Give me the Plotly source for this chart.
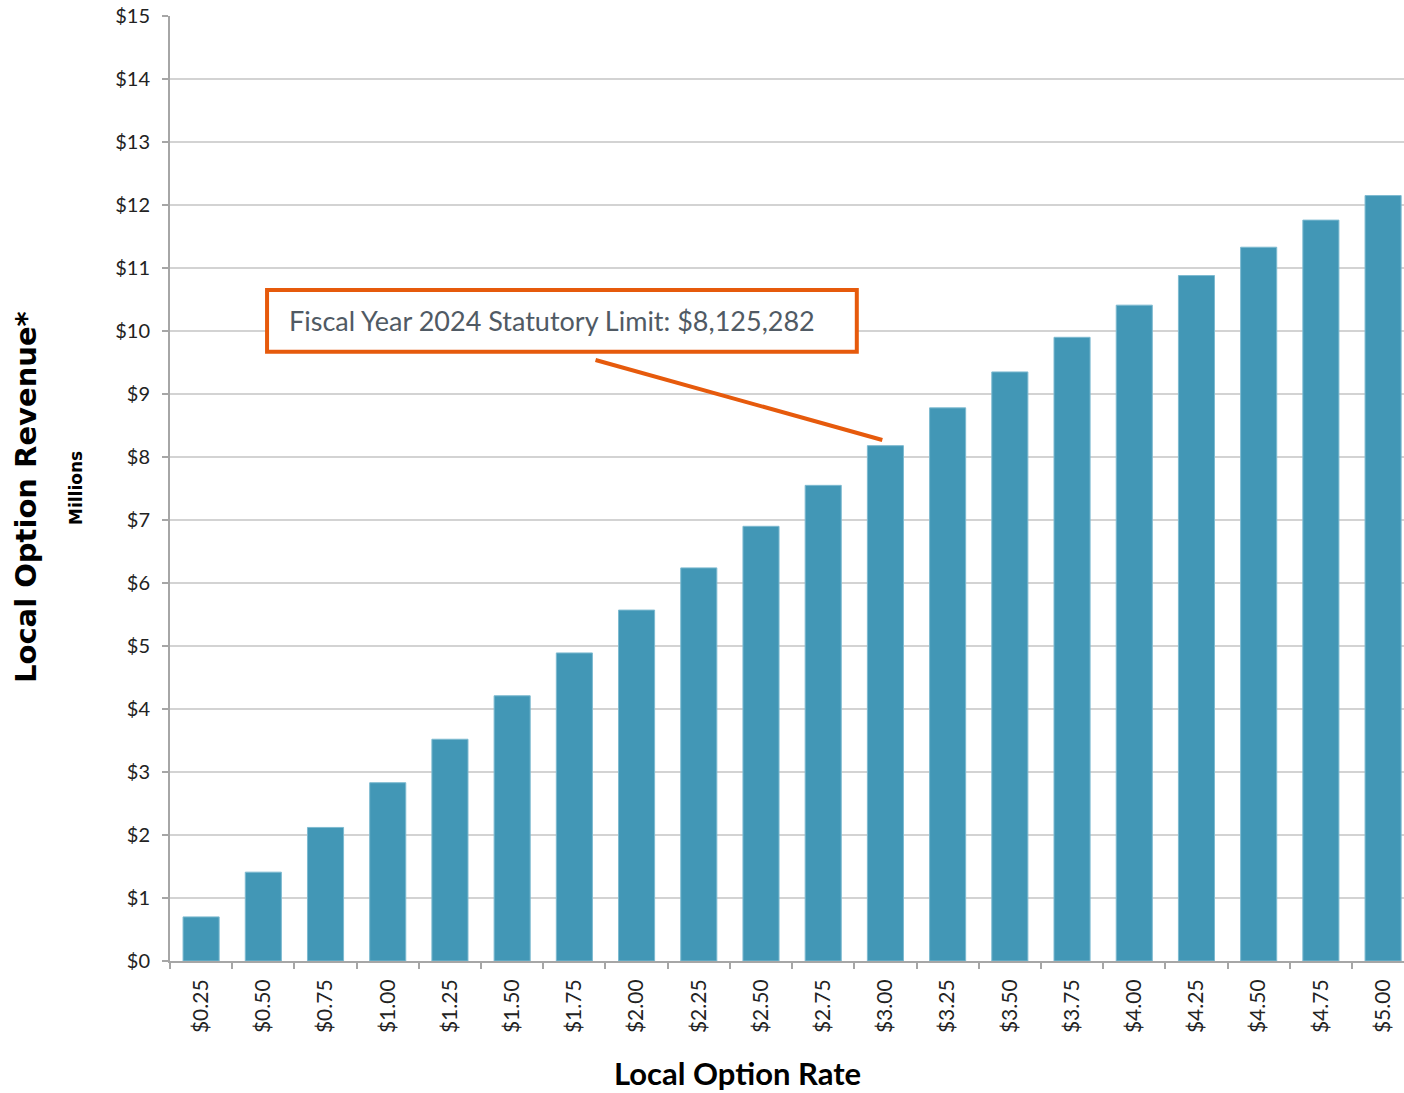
import plotly.graph_objects as go

# Local option rate categories and projected revenue (millions of dollars)
rates = ["$0.25", "$0.50", "$0.75", "$1.00", "$1.25", "$1.50", "$1.75", "$2.00",
         "$2.25", "$2.50", "$2.75", "$3.00", "$3.25", "$3.50", "$3.75", "$4.00",
         "$4.25", "$4.50", "$4.75", "$5.00"]
revenue = [0.70, 1.41, 2.12, 2.83, 3.52, 4.21, 4.89, 5.57, 6.24, 6.90,
           7.55, 8.18, 8.78, 9.35, 9.90, 10.41, 10.88, 11.33, 11.76, 12.15]
y_ticks = list(range(0, 16))
y_tick_text = [f"${v}" for v in y_ticks]

limit_text = "Fiscal Year 2024 Statutory Limit: $8,125,282"

BAR = "#4297B6"
ORANGE = "#E65A0C"
FONT = "Lato"
TITLE_FONT = "DejaVu Sans"

fig = go.Figure()
fig.add_trace(go.Bar(
    x=rates, y=revenue, width=0.58,
    marker=dict(color=BAR, line=dict(color="#7DBAD0", width=1)),
    hoverinfo="x+y",
))

fig.update_layout(
    width=1404, height=1093,
    margin=dict(l=170, r=0, t=16, b=132),
    paper_bgcolor="white", plot_bgcolor="white",
    showlegend=False,
    font=dict(family=FONT, color="#222222"),
    xaxis=dict(
        type="category", range=[-0.5, 19.336],
        tickangle=-90, tickfont=dict(size=21, family=FONT, color="#222222"),
        ticks="outside", ticklen=6, tickcolor="#A6A6A6", tickwidth=2,
        tickson="boundaries", ticklabelstandoff=8,
        showline=True, linecolor="#A6A6A6", linewidth=2,
        showgrid=False, zeroline=False,
    ),
    yaxis=dict(
        range=[0, 15], tickvals=y_ticks, ticktext=y_tick_text,
        tickfont=dict(size=20, family=FONT, color="#222222"),
        ticks="outside", ticklen=6, tickcolor="#A6A6A6", tickwidth=2,
        ticklabelstandoff=8,
        showline=True, linecolor="#A6A6A6", linewidth=2,
        showgrid=True, gridcolor="#D3D3D3", gridwidth=2,
        zeroline=False,
    ),
)

# Callout box with the statutory limit and its leader line to the $3.00 bar
fig.add_shape(type="rect", xref="x", yref="y",
              x0=1.06, x1=10.54, y0=9.67, y1=10.65,
              line=dict(color=ORANGE, width=4), fillcolor="white")
fig.add_shape(type="line", xref="x", yref="y",
              x0=6.34, y0=9.54, x1=10.95, y1=8.27,
              line=dict(color=ORANGE, width=4))
fig.add_annotation(xref="x", yref="y", x=1.38, y=10.16, xanchor="left",
                   yanchor="middle", text=limit_text, showarrow=False,
                   font=dict(size=27, family=FONT, color="#505A64"))

# Axis titles
fig.add_annotation(xref="paper", yref="paper", x=(737 - 170) / 1234, y=-0.118,
                   xanchor="center", yanchor="middle",
                   text="<b>Local Option Rate</b>", showarrow=False,
                   font=dict(size=31, family=FONT, color="#000000"))
fig.add_annotation(xref="paper", yref="paper", x=-(170 - 26) / 1234,
                   y=(961 - 497) / 945, xanchor="center", yanchor="middle",
                   textangle=-90, text="<b>Local Option Revenue*</b>",
                   showarrow=False,
                   font=dict(size=29, family=TITLE_FONT, color="#000000"))
fig.add_annotation(xref="paper", yref="paper", x=-(170 - 76) / 1234,
                   y=(961 - 488) / 945, xanchor="center", yanchor="middle",
                   textangle=-90, text="<b>Millions</b>", showarrow=False,
                   font=dict(size=17, family=TITLE_FONT, color="#000000"))

fig.write_html("out.html")
